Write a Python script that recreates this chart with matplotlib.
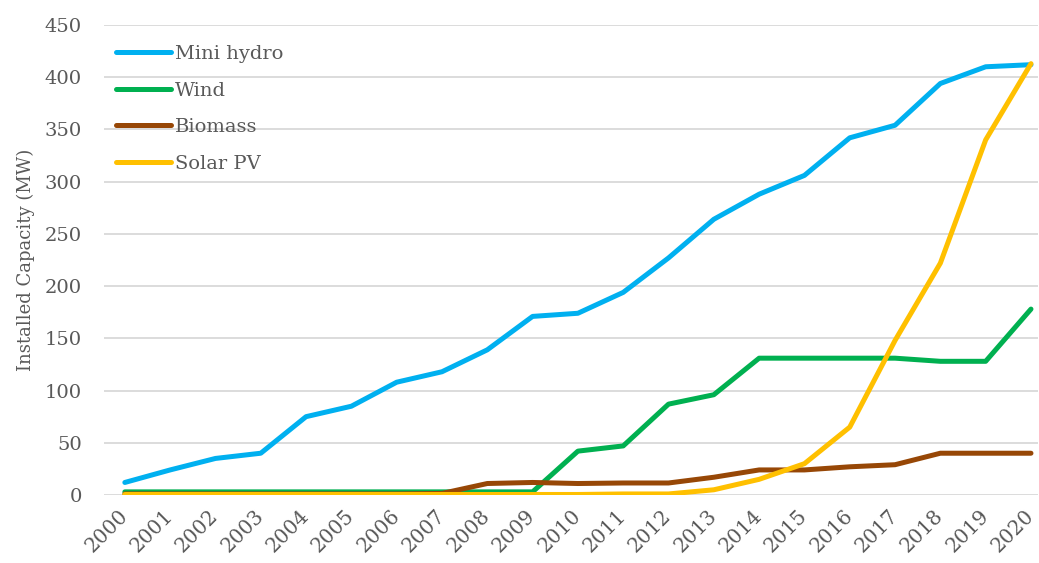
import matplotlib.pyplot as plt
import numpy as np

plt.rcParams['font.family'] = ['DejaVu Serif']

years = [str(y) for y in range(2000, 2021)]
mini_hydro = [12, 24, 35, 40, 75, 85, 108, 118, 139, 171, 174, 194, 227, 264, 288, 306, 342, 354, 394, 410, 412]
wind = [3, 3, 3, 3, 3, 3, 3, 3, 3, 3, 42, 47, 87, 96, 131, 131, 131, 131, 128, 128, 178]
biomass = [1, 1, 1, 1, 1, 1, 1, 1.5, 11, 12, 11, 11.5, 11.5, 17, 24, 24, 27, 29, 40, 40, 40]
solar_pv = [0.5, 0.5, 0.5, 0.5, 0.5, 0.5, 0.5, 0.5, 0.5, 0.5, 0.5, 1, 1, 5, 15, 30, 65, 148, 222, 340, 413]

series = [("Mini hydro", mini_hydro, "#00B0F0"),
          ("Wind", wind, "#00B050"),
          ("Biomass", biomass, "#974706"),
          ("Solar PV", solar_pv, "#FFC000")]

text_col = "#595959"

fig = plt.figure(figsize=(10.39, 5.63), dpi=100)
# axes box in pixels: left 104, right 1038, top 25, bottom 495
ax = fig.add_axes([104 / 1039, 1 - 495 / 563, (1038 - 104) / 1039, (495 - 25) / 563])

x = np.arange(len(years))
for name, vals, col in series:
    ax.plot(x, vals, color=col, lw=3.6, label=name, solid_capstyle="round", solid_joinstyle="round")

ax.set_xlim(-0.46, 20.155)
ax.set_ylim(0, 450)
ax.set_yticks(range(0, 451, 50))
ax.set_xticks(x)
ax.set_xticklabels(years, rotation=45, ha="right", va="center", rotation_mode="anchor")
ax.tick_params(axis="both", length=0, colors=text_col)
ax.tick_params(axis="y", labelsize=14, pad=16)
ax.tick_params(axis="x", labelsize=14.5, pad=13)
ax.grid(axis="y", color="#D9D9D9", lw=1.3)
ax.set_axisbelow(True)
for s in ax.spines.values():
    s.set_visible(False)

ax.set_ylabel("Installed Capacity (MW)", color=text_col, fontsize=13, labelpad=7)

ax.legend(loc="upper left", bbox_to_anchor=(0.0, 0.982), frameon=False, fontsize=14,
          labelcolor=text_col, handlelength=2.83, handletextpad=0.2, labelspacing=0.95,
          borderaxespad=0.2)

fig.savefig("out.png", dpi=100)
